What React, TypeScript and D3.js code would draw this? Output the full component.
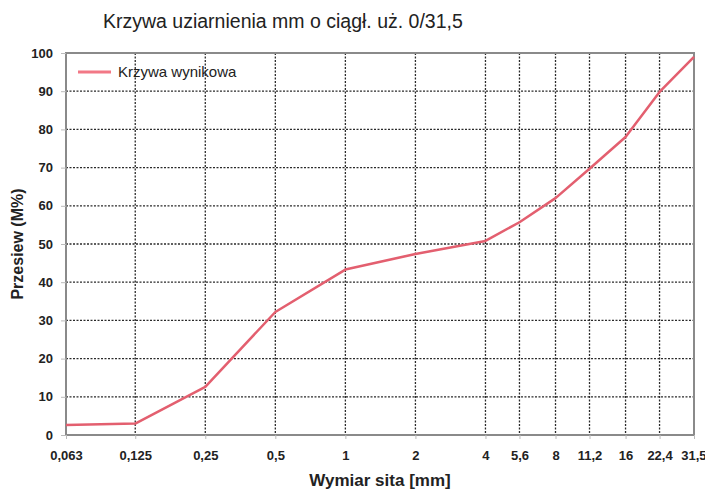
import React, {useEffect, useRef} from 'react';
import * as d3 from 'd3';

// sieve sizes (mm) and passing (%)
const sieves = [0.063, 0.125, 0.25, 0.5, 1, 2, 4, 5.6, 8, 11.2, 16, 22.4, 31.5];
const sieveLabels = ['0,063', '0,125', '0,25', '0,5', '1', '2', '4', '5,6', '8', '11,2', '16', '22,4', '31,5'];
const passing = [2.6, 3.0, 12.6, 32.2, 43.3, 47.4, 50.8, 55.7, 62, 69.7, 78, 89.8, 99];
const yTicks = [0, 10, 20, 30, 40, 50, 60, 70, 80, 90, 100];

const title = 'Krzywa uziarnienia mm o ciągł. uż. 0/31,5';
const seriesName = 'Krzywa wynikowa';

const App = () => {
    const ref = useRef<SVGSVGElement>(null);

    useEffect(() => {
        draw(ref.current);
    }, []);

    return <svg ref={ref} width={705} height={492}
        style={{position: 'absolute', left: 0, top: 0, background: '#fff'}}/>;
};

const draw = (node: SVGSVGElement | null) => {
    if (!node) return;
    const svg = d3.select(node);
    svg.selectAll('*').remove();

    const margin = {top: 53, right: 11, bottom: 57, left: 66};
    const width = 705 - margin.left - margin.right;
    const height = 492 - margin.top - margin.bottom;
    const font = 'Liberation Sans, Arial, sans-serif';

    const x = d3.scaleLog().base(2)
        .domain([0.063, 31.5])
        .range([0, width]);
    const y = d3.scaleLinear()
        .domain([0, 100])
        .range([height, 0]);

    const g = svg.append('g')
        .attr('transform', 'translate(' + margin.left + ',' + margin.top + ')');

    // dotted grid
    g.append('g').selectAll('line')
        .data(yTicks.slice(1, -1))
        .enter().append('line')
        .attr('x1', 0).attr('x2', width)
        .attr('y1', d => y(d)).attr('y2', d => y(d))
        .attr('stroke', '#2a2a2a').attr('stroke-width', 1.3)
        .attr('stroke-dasharray', '2,1.5');
    g.append('g').selectAll('line')
        .data(sieves.slice(1, -1))
        .enter().append('line')
        .attr('x1', d => x(d)).attr('x2', d => x(d))
        .attr('y1', 0).attr('y2', height)
        .attr('stroke', '#2a2a2a').attr('stroke-width', 1.3)
        .attr('stroke-dasharray', '2,1.5');

    // frame
    g.append('rect')
        .attr('x', 0).attr('y', 0)
        .attr('width', width).attr('height', height)
        .attr('fill', 'none')
        .attr('stroke', '#8a8a8a').attr('stroke-width', 2);

    // y axis labels
    const yAxis = g.append('g')
        .call(d3.axisLeft(y).tickValues(yTicks).tickSize(5).tickPadding(8));
    yAxis.select('.domain').remove();
    yAxis.selectAll('line').attr('stroke', '#bbb');
    yAxis.selectAll('text')
        .attr('font-family', font).attr('font-size', 13).attr('font-weight', 'bold')
        .attr('fill', '#222');

    // x axis labels
    const xAxis = g.append('g')
        .attr('transform', 'translate(0,' + height + ')')
        .call(d3.axisBottom(x).tickValues(sieves)
            .tickFormat((d, i) => sieveLabels[i]).tickSize(4).tickPadding(12));
    xAxis.select('.domain').remove();
    xAxis.selectAll('line').attr('stroke', '#bbb');
    xAxis.selectAll('text')
        .attr('font-family', font).attr('font-size', 13).attr('font-weight', 'bold')
        .attr('fill', '#222');
    // last label hugs the right edge
    xAxis.selectAll<SVGTextElement, number>('text')
        .filter(d => d === 31.5)
        .attr('text-anchor', 'end')
        .attr('dx', 12);

    // the curve
    const line = d3.line<number>()
        .x((d, i) => x(sieves[i]))
        .y(d => y(d));
    g.append('path')
        .datum(passing)
        .attr('d', line)
        .attr('fill', 'none')
        .attr('stroke', '#e35f6f')
        .attr('stroke-width', 2.5)
        .attr('stroke-linejoin', 'round');

    // legend
    g.append('line')
        .attr('x1', 12).attr('x2', 45)
        .attr('y1', 19).attr('y2', 19)
        .attr('stroke', '#f27886').attr('stroke-width', 3);
    g.append('text')
        .attr('x', 52).attr('y', 24)
        .text(seriesName)
        .attr('font-family', font).attr('font-size', 15)
        .attr('fill', '#222');

    // titles
    svg.append('text')
        .attr('x', 103).attr('y', 28)
        .text(title)
        .attr('font-family', font).attr('font-size', 19.5)
        .attr('fill', '#222');
    svg.append('text')
        .attr('transform', 'translate(23,' + (margin.top + height / 2) + ') rotate(-90)')
        .attr('text-anchor', 'middle')
        .text('Przesiew (M%)')
        .attr('font-family', font).attr('font-size', 16).attr('font-weight', 'bold')
        .attr('fill', '#222');
    svg.append('text')
        .attr('x', 380).attr('y', 486)
        .attr('text-anchor', 'middle')
        .text('Wymiar sita [mm]')
        .attr('font-family', font).attr('font-size', 17).attr('font-weight', 'bold')
        .attr('fill', '#222');
};

export default App;
